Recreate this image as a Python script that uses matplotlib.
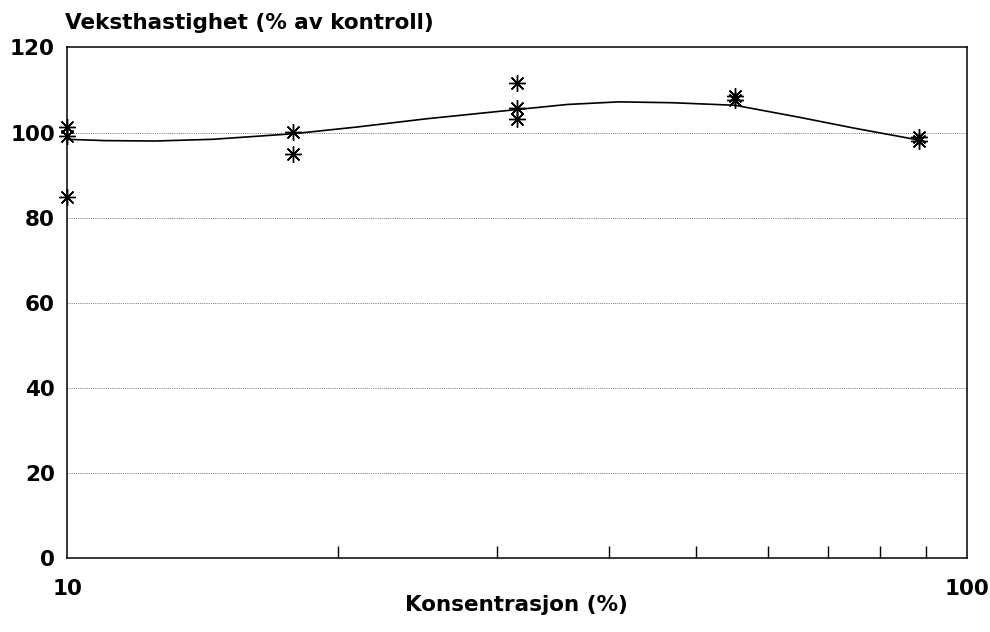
import matplotlib
matplotlib.use('Agg')
import matplotlib.pyplot as plt
from matplotlib.ticker import FixedLocator, NullFormatter

# measured points (concentration %, growth rate % of control)
conc = [10, 10, 10, 17.8, 17.8, 31.6, 31.6, 31.6, 55.2, 55.2, 88.5, 88.5]
growth = [101.4, 99.2, 84.9, 100.2, 95.0, 111.6, 105.7, 103.1, 108.5, 107.6, 98.9, 97.9]

# fitted curve
fit_conc = [10, 11, 12.5, 14.5, 17.8, 21, 25, 31.6, 36, 41, 47, 55.2, 65, 75, 88.5]
fit_growth = [98.4, 98.1, 98.0, 98.4, 99.7, 101.3, 103.2, 105.4, 106.6, 107.2,
              107.0, 106.4, 103.6, 101.0, 98.2]

y_ticks = [0, 20, 40, 60, 80, 100, 120]
x_ticks = [10, 100]
x_minor = [20, 30, 40, 50, 60, 70, 80, 90]

FS = 15.5
plt.rcParams['font.weight'] = 'bold'

fig = plt.figure(figsize=(9.9, 6.32), dpi=100)
ax = fig.add_axes([0.068, 0.117, 0.909, 0.808])

ax.plot(fit_conc, fit_growth, color='black', lw=1.2, zorder=3)
ax.plot(conc, growth, ls='none', marker=(8, 2, 0), markersize=12,
        markeredgewidth=1.0, color='black', zorder=4, clip_on=False)

ax.set_xscale('log')
ax.set_xlim(10, 100)
ax.set_ylim(0, 120)

ax.xaxis.set_major_locator(FixedLocator(x_ticks))
ax.set_xticklabels(['10', '100'])
ax.xaxis.set_minor_locator(FixedLocator(x_minor))
ax.xaxis.set_minor_formatter(NullFormatter())
ax.tick_params(axis='x', which='major', length=0, pad=15, labelsize=FS)
ax.tick_params(axis='x', which='minor', direction='in', length=9, width=1)

ax.set_yticks(y_ticks)
ax.tick_params(axis='y', which='major', direction='in', length=0, pad=9, labelsize=FS)

for v in y_ticks[1:-1]:
    ax.axhline(v, color='#777777', lw=0.7, ls=(0, (1, 1.2)), zorder=1)

for s in ax.spines.values():
    s.set_linewidth(1.1)

fig.text(0.066, 0.954, 'Veksthastighet (% av kontroll)', fontsize=15.5,
         fontweight='bold', ha='left', va='baseline')
fig.text(0.522, 0.043, 'Konsentrasjon (%)', fontsize=15.5, fontweight='bold',
         ha='center', va='center')

fig.savefig('out.png', dpi=100, facecolor='white')
